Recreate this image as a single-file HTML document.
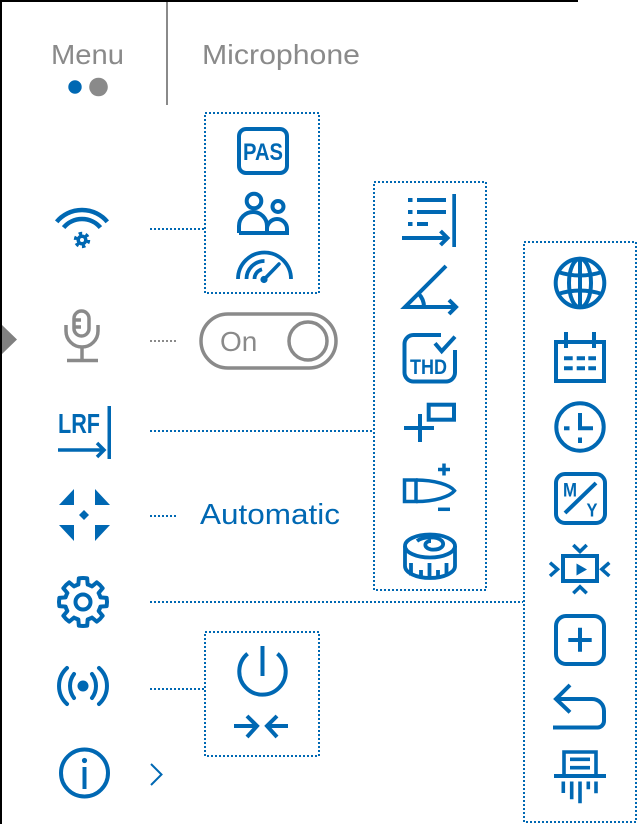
<!DOCTYPE html>
<html><head><meta charset="utf-8"><style>
html,body{margin:0;padding:0;background:#fff;}
svg{display:block;}
text{font-family:"Liberation Sans",Arial,sans-serif;}
</style></head><body>
<svg width="638" height="824" viewBox="0 0 638 824" xmlns="http://www.w3.org/2000/svg">
<rect x="0" y="0" width="638" height="824" fill="#fff"/>
<!-- borders -->
<rect x="0" y="0" width="578" height="2" fill="#000"/>
<rect x="0" y="0" width="2" height="824" fill="#000"/>
<polygon points="2,325 17,339.5 2,354" fill="#808080"/>

<!-- header -->
<text x="51" y="64" font-size="28" fill="#8a8a8a" textLength="73" lengthAdjust="spacingAndGlyphs">Menu</text>
<circle cx="75" cy="87" r="6.7" fill="#0068b3"/>
<circle cx="98.5" cy="87" r="9.3" fill="#8a8a8a"/>
<rect x="166" y="2" width="2" height="103" fill="#8a8a8a"/>
<text x="202" y="64" font-size="28" fill="#8a8a8a" textLength="158" lengthAdjust="spacingAndGlyphs">Microphone</text>

<g fill="none" stroke="#0068b3" stroke-width="2" stroke-dasharray="2 2">
  <rect x="205" y="113" width="114" height="180"/>
  <rect x="374" y="182" width="112" height="408"/>
  <rect x="524" y="242" width="112" height="580"/>
  <rect x="205" y="632" width="114" height="124"/>
  <line x1="150" y1="229" x2="204" y2="229"/>
  <line x1="150" y1="431" x2="373" y2="431"/>
  <line x1="150" y1="516" x2="176" y2="516"/>
  <line x1="150" y1="602" x2="523" y2="602"/>
  <line x1="150" y1="689" x2="204" y2="689"/>
</g>
<line x1="150" y1="341" x2="176" y2="341" stroke="#8a8a8a" stroke-width="2" stroke-dasharray="2 2"/>

<!-- left column icons -->
<g fill="none" stroke="#0068b3" stroke-width="4.5">
  <path d="M56.7 221.8 A33 33 0 0 1 107.3 221.8"/>
  <path d="M63.6 227.6 A24 24 0 0 1 100.4 227.6"/>
</g>
<circle cx="82" cy="240" r="5.5" fill="#0068b3"/>
<circle cx="82" cy="240" r="6.5" fill="none" stroke="#0068b3" stroke-width="3.5" stroke-dasharray="3.4 3.4"/>
<circle cx="82" cy="240" r="2" fill="#fff"/>

<!-- mic -->
<g fill="none" stroke="#8a8a8a" stroke-width="3.5">
  <rect x="74" y="311" width="15" height="25" rx="7.5"/>
  <path d="M74 320 H81 M74 327 H81"/>
  <path d="M66 325 V331 A16 16 0 0 0 98 331 V325"/>
  <path d="M82 347 V360"/>
  <path d="M67 360.5 H98"/>
</g>

<!-- toggle -->
<rect x="201" y="314" width="135" height="54" rx="27" fill="none" stroke="#8a8a8a" stroke-width="3.5"/>
<text x="220" y="351" font-size="28" fill="#8a8a8a">On</text>
<circle cx="308" cy="341" r="19" fill="none" stroke="#8a8a8a" stroke-width="3.5"/>

<!-- LRF -->
<text x="58" y="433" font-size="28" font-weight="bold" fill="#0068b3" textLength="42" lengthAdjust="spacingAndGlyphs">LRF</text>
<rect x="107.5" y="406" width="3.5" height="53" fill="#0068b3"/>
<g fill="none" stroke="#0068b3" stroke-width="3.5">
  <path d="M58 450 H104"/>
  <path d="M97 443 L104 450 L97 457"/>
</g>

<!-- target -->
<g fill="#0068b3">
  <polygon points="59,505 74,505 74,489"/>
  <polygon points="95,489 110,505 95,505"/>
  <polygon points="59,525 74,525 74,541"/>
  <polygon points="95,525 110,525 95,541"/>
  <polygon points="84,510 89,515 84,520 79,515"/>
</g>
<text x="200" y="524" font-size="29" fill="#0068b3" textLength="140" lengthAdjust="spacingAndGlyphs">Automatic</text>

<!-- gear -->
<g fill="none" stroke="#0068b3" stroke-width="4" stroke-linecap="round" stroke-linejoin="round">
  <g transform="translate(83 602)">
    <path id="tooth" d="M-6.89 -16.63 A18 18 0 0 1 -4.66 -17.39 L-4.17 -23.64 A24 24 0 0 1 4.17 -23.64 L4.66 -17.39 A18 18 0 0 1 6.89 -16.63"/>
    <use href="#tooth" transform="rotate(45)"/>
    <use href="#tooth" transform="rotate(90)"/>
    <use href="#tooth" transform="rotate(135)"/>
    <use href="#tooth" transform="rotate(180)"/>
    <use href="#tooth" transform="rotate(225)"/>
    <use href="#tooth" transform="rotate(270)"/>
    <use href="#tooth" transform="rotate(315)"/>
    <circle cx="0" cy="0" r="7.5"/>
  </g>
</g>

<!-- radio -->
<circle cx="83" cy="686" r="5.5" fill="#0068b3"/>
<g fill="none" stroke="#0068b3" stroke-width="4" stroke-linecap="round">
  <path d="M74 674 A20 20 0 0 0 74 698"/>
  <path d="M92 674 A20 20 0 0 1 92 698"/>
  <path d="M67 668 A24.3 24.3 0 0 0 67 704"/>
  <path d="M99 668 A24.3 24.3 0 0 1 99 704"/>
</g>

<!-- info -->
<circle cx="84.5" cy="773" r="23.5" fill="none" stroke="#0068b3" stroke-width="4"/>
<circle cx="84.5" cy="760.5" r="2.6" fill="#0068b3"/>
<line x1="84.5" y1="767" x2="84.5" y2="789" stroke="#0068b3" stroke-width="4"/>
<path d="M151 764 L161.5 774.5 L151 785" fill="none" stroke="#0068b3" stroke-width="2"/>

<!-- box 1 -->
<rect x="239" y="129" width="48" height="44" rx="7" fill="none" stroke="#0068b3" stroke-width="4"/>
<text x="243" y="160" font-size="24" font-weight="bold" fill="#0068b3" textLength="40" lengthAdjust="spacingAndGlyphs">PAS</text>
<g fill="none" stroke="#0068b3" stroke-width="4">
  <circle cx="254" cy="201" r="7.3"/>
  <circle cx="278" cy="206.5" r="5.5"/>
  <path d="M239 233 V226 A14 14 0 0 1 267 226 V233"/>
  <path d="M267 229 A10 10 0 0 1 287 229 V233 H239"/>
</g>
<g fill="none" stroke="#0068b3" stroke-width="3.8">
  <path d="M238 279 A26.5 26.5 0 0 1 291 279"/>
  <path d="M246.5 279 A18 18 0 0 1 264.5 261"/>
  <path d="M254.5 279 A10 10 0 0 1 262 269.3"/>
</g>
<circle cx="264" cy="279.5" r="3.6" fill="#0068b3"/>
<line x1="264" y1="279.5" x2="279" y2="264" stroke="#0068b3" stroke-width="3.5" stroke-linecap="round"/>

<!-- box 2 -->
<g fill="#0068b3">
  <rect x="408" y="198" width="4.5" height="4"/>
  <rect x="408" y="210" width="4.5" height="4"/>
  <rect x="408" y="222" width="4.5" height="4"/>
  <rect x="417" y="198" width="29" height="4"/>
  <rect x="417" y="210" width="29" height="4"/>
  <rect x="417" y="222" width="11" height="4"/>
  <rect x="452.3" y="194" width="3.7" height="53"/>
</g>
<g fill="none" stroke="#0068b3" stroke-width="4">
  <path d="M402 238 H447"/>
  <path d="M440.5 231 L447.5 238 L440.5 245"/>
  <!-- angle -->
  <path d="M446 266 L405 307 H455"/>
  <path d="M449 300 L456 307 L449 314"/>
  <path d="M418.4 293.6 A19 19 0 0 1 424 307"/>
  <!-- THD -->
  <path d="M441 335 H413.5 A9 9 0 0 0 404.5 344 V372.5 A9 9 0 0 0 413.5 381.5 H446 A9 9 0 0 0 455 372.5 V350"/>
  <path d="M435 343.3 L441.7 351.2 L455 336.7"/>
  <!-- plus rect -->
  <path d="M404 428 H434 M420 414 V442"/>
  <rect x="428.7" y="404.7" width="25.3" height="15"/>
</g>
<text x="410" y="374" font-size="21" font-weight="bold" fill="#0068b3" textLength="37" lengthAdjust="spacingAndGlyphs">THD</text>
<g fill="none" stroke="#0068b3" stroke-width="3.5">
  <path d="M416 480 H404.5 V501.5 H416 Z"/>
  <path d="M416 480 C435 480 450 485 454.5 490.7 C450 496.5 435 501.5 416 501.5"/>
  <path d="M438 469.5 H450 M444 463.5 V475.5"/>
  <path d="M438 509.3 H450"/>
</g>
<!-- tape -->
<g fill="none" stroke="#0068b3" stroke-width="3.8">
  <ellipse cx="430" cy="546" rx="25" ry="11.5"/>
  <path d="M405 546 V566 A25 12 0 0 0 455 566 V546"/>
  <path d="M431 541 C424 541 423 548 431 549.5 C441 550.5 446 545 441.5 540.5 C436.5 536 423 536.5 417 541"/>
  <path d="M411 563 V575.5 M421 570 V577.5 M429.5 563 V578 M438 570 V577.5 M446.5 563 V575.5"/>
</g>

<!-- box 3 -->
<g fill="none" stroke="#0068b3" stroke-width="4">
  <circle cx="580" cy="283" r="24.3"/>
  <ellipse cx="580" cy="283" rx="11" ry="24.3"/>
  <path d="M580 259 V307"/>
  <path d="M558 272 Q580 279 602 272"/>
  <path d="M558 294 Q580 287 602 294"/>
  <!-- calendar -->
  <rect x="556" y="342" width="48" height="39"/>
  <path d="M566 332 V348 M594 332 V348"/>
  <path d="M564 358.3 H572.7 M576.7 358.3 H585 M588.3 358.3 H596 M564 368.3 H572.7 M576.7 368.3 H585 M588.3 368.3 H596"/>
  <!-- clock -->
  <circle cx="580" cy="427" r="23.7"/>
  <path d="M580 413 V428.3 H593"/>
  <path d="M564 428.3 H569.5"/>
  <path d="M580 437.5 V443"/>
  <!-- M/Y -->
  <rect x="556" y="474" width="49" height="49" rx="9"/>
  <path d="M565 513 L596 483"/>
  <!-- video -->
  <rect x="563" y="556" width="34" height="25"/>
  <!-- plus square -->
  <rect x="556" y="616" width="48" height="48" rx="10"/>
  <path d="M568.3 640 H591.7 M580 627.7 V651.7"/>
  <!-- return -->
  <path d="M570 685 L556 699 L570 712.3"/>
  <path d="M556 699 H592 A12 12 0 0 1 604 711 V721 A6.5 6.5 0 0 1 597.5 727.5 H553"/>
</g>
<text x="563" y="496.5" font-size="19" font-weight="bold" fill="#0068b3" textLength="14" lengthAdjust="spacingAndGlyphs">M</text>
<text x="586.5" y="516.5" font-size="18" font-weight="bold" fill="#0068b3" textLength="11" lengthAdjust="spacingAndGlyphs">Y</text>
<polygon points="576.5,563.5 587,569.5 576.5,575.5" fill="#0068b3"/>
<g fill="none" stroke="#0068b3" stroke-width="3.5">
  <path d="M573.3 545 L580 551.5 L586.7 545"/>
  <path d="M573.3 593.3 L580 586.8 L586.7 593.3"/>
  <path d="M550 562.7 L557.5 569.3 L550 576"/>
  <path d="M609.3 562.7 L601.8 569.3 L609.3 576"/>
</g>
<!-- shredder -->
<g fill="none" stroke="#0068b3" stroke-width="3.6">
  <path d="M564 776 V752 H596 V776"/>
  <path d="M570 759.3 H590 M570 767.7 H590"/>
  <path d="M563.3 781.5 V793 M571.7 781.5 V799.3 M580 781.5 V803.3 M588.3 781.5 V789.3 M596 781.5 V793.3"/>
</g>
<rect x="554" y="774" width="52" height="4" fill="#0068b3"/>

<!-- box 4 -->
<g fill="none" stroke="#0068b3" stroke-width="4">
  <path d="M277.4 653.7 A23.2 23.2 0 1 1 247.6 653.7"/>
  <path d="M262.5 646 V676"/>
  <path d="M234 726 H256 M247 716 L257 726 L247 737"/>
  <path d="M288 726 H266 M277 716 L267 726 L277 737"/>
</g>
</svg>
</body></html>
